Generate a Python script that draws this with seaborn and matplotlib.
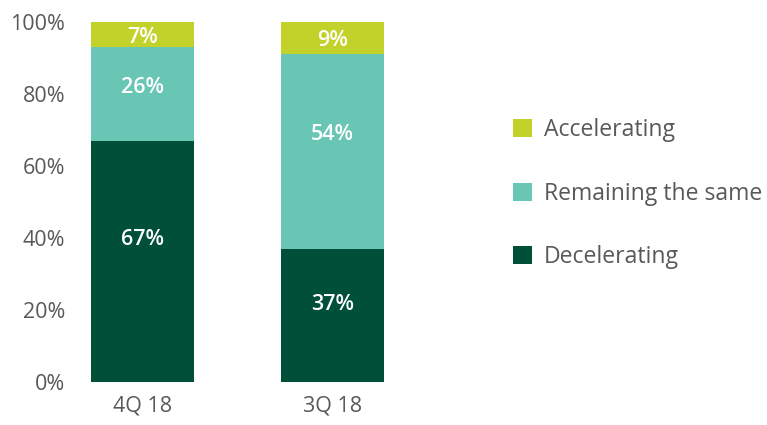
import matplotlib
matplotlib.use("Agg")
import matplotlib.pyplot as plt
import seaborn as sns
import numpy as np
import pandas as pd

categories = ["4Q 18", "3Q 18"]
decelerating = [67, 37]
remaining = [26, 54]
accelerating = [7, 9]
series_names = ["Decelerating", "Remaining the same", "Accelerating"]
colors = {"Decelerating": "#004F38", "Remaining the same": "#69C6B5", "Accelerating": "#C2D22B"}
yticks = [0, 20, 40, 60, 80, 100]

sns.set_theme(style="white")
plt.rcParams["font.family"] = ["Open Sans", "DejaVu Sans"]
text_color = "#58595B"

fig = plt.figure(figsize=(7.67, 4.25), dpi=100)
ax = fig.add_axes([75 / 767, 1 - 382 / 425, 325 / 767, 360 / 425])

df = pd.DataFrame({"cat": categories, "Decelerating": decelerating,
                   "Remaining the same": remaining, "Accelerating": accelerating})

bottom = np.zeros(len(categories))
for name in series_names:
    vals = np.array(df[name], dtype=float)
    sns.barplot(data=df, x="cat", y=name, color=colors[name], bottom=bottom,
                width=0.542, ax=ax, saturation=1, linewidth=0, label=name)
    for i, v in enumerate(vals):
        frac = 0.6 if v > 15 else 0.5
        ax.text(i, bottom[i] + v * frac, f"{int(v)}%", ha="center", va="center_baseline",
                color="white", fontsize=15.5, fontweight="semibold")
    bottom = bottom + vals

ax.set_xlim(-0.355, 1.355)
ax.set_ylim(0, 100)
ax.set_yticks(yticks)
ax.set_yticklabels([f"{t}%" for t in yticks])
ax.set_xlabel("")
ax.set_ylabel("")
ax.tick_params(axis="y", length=0, pad=7, labelsize=15.5, labelcolor=text_color)
ax.tick_params(axis="x", length=0, pad=10, labelsize=15.5, labelcolor=text_color)
for s in ax.spines.values():
    s.set_visible(False)

h, l = ax.get_legend_handles_labels()
order = [l.index(n) for n in ["Accelerating", "Remaining the same", "Decelerating"]]
leg = fig.legend([h[i] for i in order], [l[i] for i in order],
                 loc="upper left", bbox_to_anchor=(513 / 767, 1 - 118 / 425),
                 bbox_transform=fig.transFigure, frameon=False, borderpad=0,
                 borderaxespad=0, handlelength=0.84, handleheight=0.84,
                 handletextpad=0.5, labelspacing=1.72, fontsize=16.6)
for t in leg.get_texts():
    t.set_color(text_color)
if ax.get_legend() is not None:
    ax.get_legend().remove()

fig.savefig("out.png", dpi=100)
